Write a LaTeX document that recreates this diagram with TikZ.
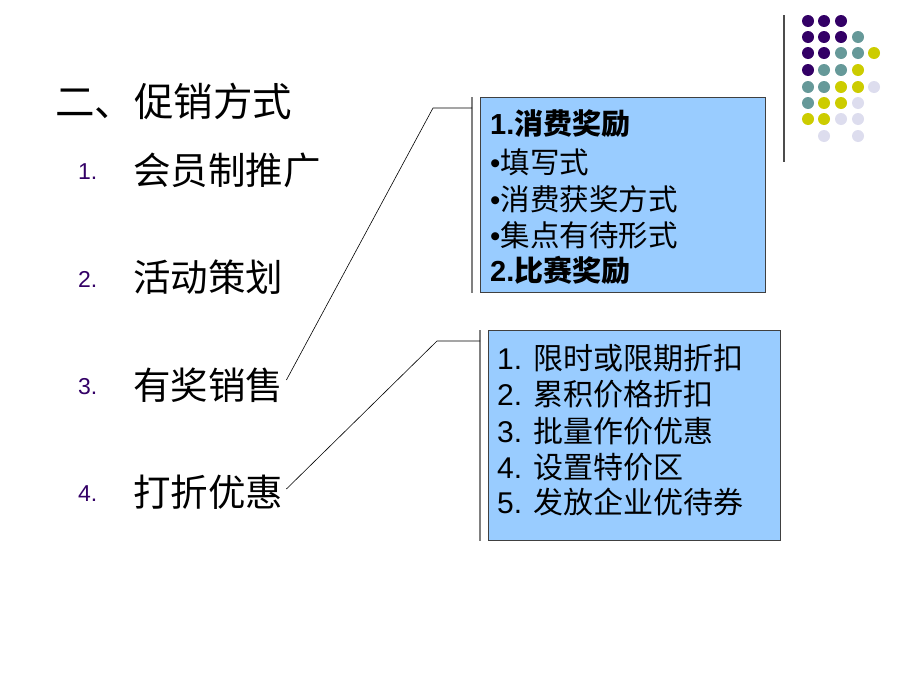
\documentclass[tikz,border=0pt]{standalone}
\usepackage{fontspec}
\setmainfont{Liberation Sans}
\newfontfamily\cjk{Noto Sans CJK SC}
\usetikzlibrary{positioning}
\definecolor{drkpurple}{RGB}{51,0,102}
\definecolor{dotteal}{RGB}{102,153,153}
\definecolor{dotyellow}{RGB}{204,204,0}
\definecolor{dotlilac}{RGB}{221,221,238}
\definecolor{boxblue}{RGB}{153,204,255}
\definecolor{brktgray}{RGB}{128,128,128}

\begin{document}
\begin{tikzpicture}[x=1pt,y=-1pt,
  item/.style={anchor=west,inner sep=0pt,font=\cjk\fontsize{37.5}{42}\selectfont},
  num/.style={anchor=west,inner sep=0pt,text=drkpurple,font=\fontsize{23}{26}\selectfont},
  infobox/.style={draw=black!75,fill=boxblue,line width=1pt,anchor=north west,inner sep=0pt},
  boxline/.style={anchor=west,inner sep=0pt,font=\fontsize{29.5}{32}\selectfont},
  bracket/.style={draw=brktgray,line width=1.5pt},
  leader/.style={draw=black,line width=0.6pt}]
     \useasboundingbox (0,0) rectangle (900,675);

     % heading and list
     \node [item,font=\cjk\fontsize{39.5}{44}\selectfont] (title) at (55,101) {二、促销方式};
     \node [num] (n1) at (78,172) {1.};
     \node [item] (it1) at (133,170) {会员制推广};
     \node [num] (n2) at (78,279) {2.};
     \node [item] (it2) at (133,277) {活动策划};
     \node [num] (n3) at (78,387) {3.};
     \node [item] (it3) at (133,385) {有奖销售};
     \node [num] (n4) at (78,494) {4.};
     \node [item] (it4) at (133,492) {打折优惠};

     % first box
     \node [infobox,minimum width=285pt,minimum height=195pt] (boxA) at (480,97) {};
     \coordinate (brkA) at ([xshift=-8pt]boxA.north west);
     \draw [bracket] (brkA) -- ([xshift=-8pt]boxA.south west);
     \coordinate (kinkA) at (433,108);
     \draw [leader] ([xshift=3pt,yshift=5pt]it3.east) -- (kinkA) -- (kinkA -| brkA);

     \node [boxline,font=\bfseries\fontsize{29}{32}\selectfont] (a1) at (490,124) {1.{\cjk 消费奖励}};
     \node [boxline] (a2) at (490,162) {•{\cjk 填写式}};
     \node [boxline] (a3) at (490,199) {•{\cjk 消费获奖方式}};
     \node [boxline] (a4) at (490,235) {•{\cjk 集点有待形式}};
     \node [boxline,font=\bfseries\fontsize{29}{32}\selectfont] (a5) at (490,270) {2.{\cjk 比赛奖励}};

     % second box
     \node [infobox,minimum width=292pt,minimum height=210pt] (boxB) at (488,330) {};
     \coordinate (brkB) at ([xshift=-8pt]boxB.north west);
     \draw [bracket] (brkB) -- ([xshift=-8pt]boxB.south west);
     \coordinate (kinkB) at (437,341);
     \draw [leader] ([xshift=3pt,yshift=3pt]it4.east) -- (kinkB) -- (kinkB -| brkB);

     \node [boxline,font=\fontsize{30}{32}\selectfont] (b1) at (497,358) {1. {\cjk 限时或限期折扣}};
     \node [boxline,font=\fontsize{30}{32}\selectfont] (b2) at (497,394) {2. {\cjk 累积价格折扣}};
     \node [boxline,font=\fontsize{30}{32}\selectfont] (b3) at (497,431) {3. {\cjk 批量作价优惠}};
     \node [boxline,font=\fontsize{30}{32}\selectfont] (b4) at (497,467) {4. {\cjk 设置特价区}};
     \node [boxline,font=\fontsize{30}{32}\selectfont] (b5) at (497,502) {5. {\cjk 发放企业优待券}};

     % dots in the corner
     \draw [draw=black!70,line width=1.5pt] (784,15) -- (784,162);
     \fill [drkpurple] (808,21) circle (6pt) (824,21) circle (6pt) (841,21) circle (6pt)
        (808,37) circle (6pt) (824,37) circle (6pt) (841,37) circle (6pt)
        (808,53) circle (6pt) (824,53) circle (6pt) (808,70) circle (6pt);
     \fill [dotteal] (858,37) circle (6pt) (841,53) circle (6pt) (858,53) circle (6pt)
        (824,70) circle (6pt) (841,70) circle (6pt) (808,87) circle (6pt)
        (824,87) circle (6pt) (808,103) circle (6pt);
     \fill [dotyellow] (874,53) circle (6pt) (858,70) circle (6pt) (841,87) circle (6pt)
        (858,87) circle (6pt) (824,103) circle (6pt) (841,103) circle (6pt)
        (808,119) circle (6pt) (824,119) circle (6pt);
     \fill [dotlilac] (874,87) circle (6pt) (858,103) circle (6pt) (841,119) circle (6pt)
        (858,119) circle (6pt) (824,136) circle (6pt) (858,136) circle (6pt);
\end{tikzpicture}
\end{document}
